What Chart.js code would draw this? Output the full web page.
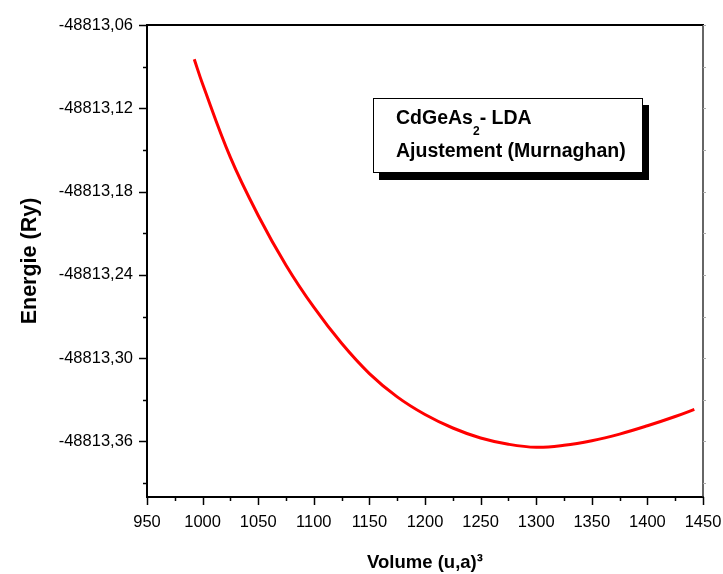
<!DOCTYPE html>
<html>
<head>
<meta charset="utf-8">
<script src="https://cdn.jsdelivr.net/npm/chart.js@4"></script>
<style>
  html, body { margin: 0; padding: 0; background: #fff; }
  #wrap { position: relative; width: 723px; height: 574px; }
  #note {
    position: absolute; left: 373px; top: 98px; width: 270px; height: 75px;
    box-sizing: border-box; border: 1.3px solid #000; background: #fff;
    box-shadow: 6px 7px 0 #000;
    font-family: "Liberation Sans", Arial, sans-serif; font-weight: bold; font-size: 19.5px; color: #000;
  }
  #note div { position: absolute; left: 22px; line-height: 22px; white-space: nowrap; }
  #note sub { font-size: 12px; vertical-align: -11px; line-height: 0; }
</style>
</head>
<body>
<div id="wrap">
  <canvas id="energyChart"></canvas>
  <div id="note">
    <div style="top: 7px">CdGeAs<sub>2</sub>- LDA</div>
    <div style="top: 40px">Ajustement (Murnaghan)</div>
  </div>
</div>
<script>
// Murnaghan fit
const volume = [992.5, 1000, 1025, 1050, 1075, 1100, 1125, 1150, 1175, 1200, 1225,
                1250, 1275, 1300, 1325, 1350, 1375, 1400, 1425, 1442.2];
const energy = [-48813.0847, -48813.1025, -48813.1554, -48813.1972, -48813.2330, -48813.2633,
                -48813.2893, -48813.3111, -48813.3279, -48813.3406, -48813.3503, -48813.3575,
                -48813.3620, -48813.3642, -48813.3628, -48813.3595, -48813.3547, -48813.3487,
                -48813.3420, -48813.3369];

const xMajor = [950, 1000, 1050, 1100, 1150, 1200, 1250, 1300, 1350, 1400, 1450];
const xMinor = [975, 1025, 1075, 1125, 1175, 1225, 1275, 1325, 1375, 1425];
const yMajor = [-48813.36, -48813.30, -48813.24, -48813.18, -48813.12, -48813.06];
const yMinor = [-48813.39, -48813.33, -48813.27, -48813.21, -48813.15, -48813.09];

const FONT = '"Liberation Sans", Arial, sans-serif';
Chart.defaults.font.family = FONT;
Chart.defaults.color = '#000';

const isMajor = (list, v) => list.some(m => Math.abs(m - v) < 1e-6);

// tick marks + top/right frame, drawn from the scales
const frameTicks = {
  id: 'frameTicks',
  afterDraw(chart) {
    const { ctx, chartArea: a } = chart;
    const xs = chart.scales.x, ys = chart.scales.y;
    ctx.save();
    ctx.strokeStyle = '#000';
    ctx.lineWidth = 2;
    ctx.beginPath();
    ctx.moveTo(a.left - 1, a.top); ctx.lineTo(a.right + 1, a.top);
    ctx.stroke();
    ctx.strokeStyle = '#333';
    ctx.lineWidth = 1.5;
    ctx.beginPath();
    ctx.moveTo(a.right, a.top); ctx.lineTo(a.right, a.bottom);
    ctx.stroke();

    ctx.strokeStyle = '#000';
    ctx.lineWidth = 1.5;
    xs.ticks.forEach(t => {
      const px = Math.round(xs.getPixelForValue(t.value)) + 0.5;
      const len = isMajor(xMajor, t.value) ? 8 : 4;
      ctx.beginPath(); ctx.moveTo(px, a.bottom); ctx.lineTo(px, a.bottom + len); ctx.stroke();
    });
    ys.ticks.forEach(t => {
      const py = Math.round(ys.getPixelForValue(t.value)) + 0.5;
      const len = isMajor(yMajor, t.value) ? 8 : 4;
      ctx.beginPath(); ctx.moveTo(a.left, py); ctx.lineTo(a.left - len, py); ctx.stroke();
    });
    ctx.strokeStyle = '#aaa';
    ctx.lineWidth = 1;
    ys.ticks.forEach(t => {
      const py = Math.round(ys.getPixelForValue(t.value)) + 0.5;
      ctx.beginPath(); ctx.moveTo(a.right, py); ctx.lineTo(a.right + 3, py); ctx.stroke();
    });
    ctx.restore();
  }
};

new Chart(document.getElementById('energyChart'), {
  type: 'line',
  data: {
    datasets: [{
      data: volume.map((v, i) => ({ x: v, y: energy[i] })),
      borderColor: '#ff0000',
      borderWidth: 3,
      pointRadius: 0,
      fill: false,
      tension: 0.4,
    }],
  },
  options: {
    responsive: true,
    maintainAspectRatio: false,
    animation: false,
    layout: { padding: { top: 25, right: 20, left: 0, bottom: 0 } },
    plugins: { legend: { display: false }, tooltip: { enabled: false } },
    scales: {
      x: {
        type: 'linear', min: 950, max: 1450,
        grid: { display: false, drawTicks: false },
        border: { display: true, color: '#000', width: 2 },
        afterBuildTicks: s => { s.ticks = [...xMajor, ...xMinor].sort((p, q) => p - q).map(v => ({ value: v })); },
        afterFit: s => { s.height = 77; s.paddingLeft = 0; s.paddingRight = 0; },
        ticks: {
          padding: 16, maxRotation: 0, autoSkip: false,
          font: { size: 16.5 },
          callback: v => isMajor(xMajor, v) ? String(v) : '',
        },
        title: {
          display: true, text: 'Volume (u,a)³',
          font: { size: 18.5, weight: 'bold' },
          padding: { top: 0, bottom: 0 },
        },
      },
      y: {
        type: 'linear', min: -48813.40, max: -48813.06,
        grid: { display: false, drawTicks: false },
        border: { display: true, color: '#000', width: 2 },
        afterBuildTicks: s => { s.ticks = [...yMinor, ...yMajor].sort((p, q) => p - q).map(v => ({ value: v })); },
        afterFit: s => { s.width = 147; s.paddingTop = 0; s.paddingBottom = 0; },
        ticks: {
          padding: 14, autoSkip: false,
          font: { size: 16.5 },
          callback: v => isMajor(yMajor, v) ? v.toFixed(2).replace('.', ',') : '',
        },
        title: {
          display: true, text: 'Energie (Ry)',
          font: { size: 21.5, weight: 'bold' },
          padding: { top: 17, bottom: 0 },
        },
      },
    },
  },
  plugins: [frameTicks],
});
</script>
</body>
</html>
